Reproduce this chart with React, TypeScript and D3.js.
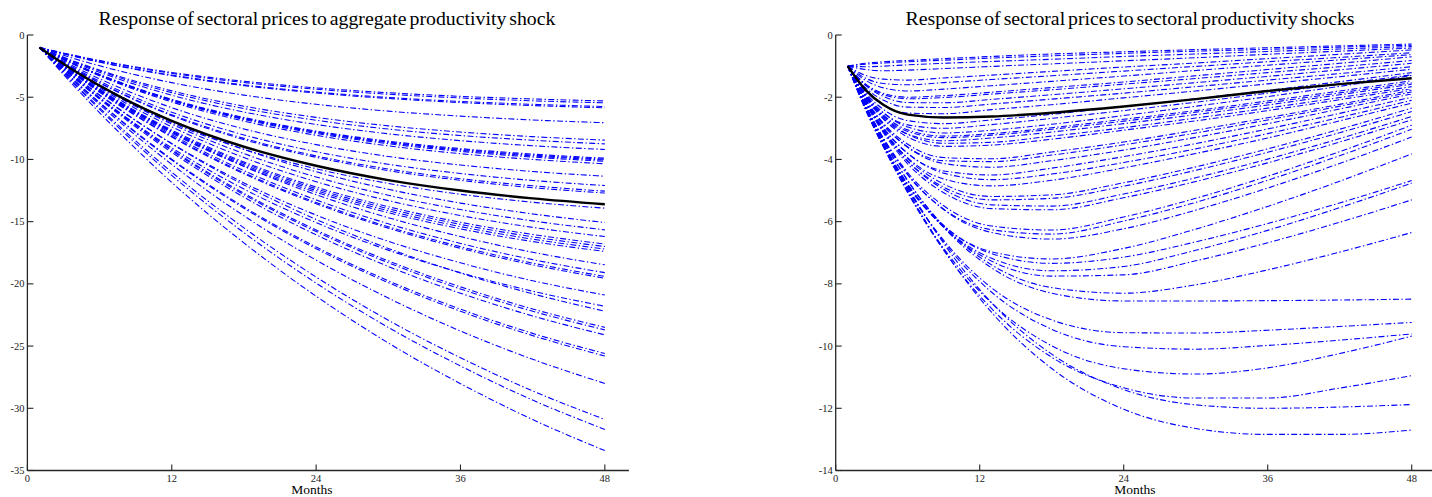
import React from "react";
import * as d3 from "d3";

// ---------- data ----------
const X_TICKS = [0, 12, 24, 36, 48];
const LEFT_Y_TICKS = [0, -5, -10, -15, -20, -25, -30, -35];
const RIGHT_Y_TICKS = [0, -2, -4, -6, -8, -10, -12, -14];

const LEFT_MONTHS = [1, 4, 8, 12, 18, 24, 30, 36, 42, 48];
const LEFT_AGGREGATE = [-1, -2.94, -5.11, -6.9, -8.98, -10.51, -11.66, -12.5, -13.13, -13.6];
const LEFT_SECTORS: number[][] = [
  [-1, -1.66, -2.4, -3.01, -3.72, -4.25, -4.64, -4.93, -5.14, -5.3],
  [-1, -1.69, -2.45, -3.08, -3.82, -4.36, -4.76, -5.06, -5.29, -5.45],
  [-1, -1.73, -2.55, -3.22, -4.01, -4.59, -5.02, -5.34, -5.57, -5.75],
  [-1, -1.75, -2.58, -3.27, -4.07, -4.66, -5.1, -5.43, -5.67, -5.85],
  [-1, -1.93, -2.97, -3.83, -4.83, -5.57, -6.12, -6.52, -6.83, -7.05],
  [-1, -2.15, -3.43, -4.49, -5.72, -6.62, -7.3, -7.8, -8.17, -8.45],
  [-1, -2.19, -3.53, -4.63, -5.91, -6.85, -7.56, -8.08, -8.46, -8.75],
  [-1, -2.26, -3.67, -4.84, -6.19, -7.19, -7.94, -8.49, -8.9, -9.2],
  [-1, -2.37, -3.9, -5.17, -6.63, -7.72, -8.53, -9.13, -9.57, -9.9],
  [-1, -2.38, -3.93, -5.2, -6.68, -7.78, -8.6, -9.2, -9.65, -9.98],
  [-1, -2.39, -3.95, -5.24, -6.73, -7.83, -8.66, -9.26, -9.72, -10.05],
  [-1, -2.41, -3.98, -5.28, -6.79, -7.91, -8.74, -9.35, -9.81, -10.15],
  [-1, -2.44, -4.05, -5.38, -6.92, -8.06, -8.91, -9.54, -10.0, -10.35],
  [-1, -2.59, -4.37, -5.84, -7.55, -8.81, -9.76, -10.45, -10.97, -11.35],
  [-1, -2.71, -4.62, -6.2, -8.03, -9.38, -10.39, -11.13, -11.69, -12.1],
  [-1, -2.78, -4.77, -6.41, -8.31, -9.72, -10.77, -11.55, -12.12, -12.55],
  [-1, -2.8, -4.81, -6.48, -8.41, -9.83, -10.9, -11.68, -12.27, -12.7],
  [-1, -2.99, -5.21, -7.05, -9.18, -10.75, -11.93, -12.8, -13.44, -13.92],
  [-1, -2.87, -5.05, -6.91, -9.19, -10.99, -12.4, -13.51, -14.38, -15.07],
  [-1, -2.95, -5.22, -7.16, -9.53, -11.41, -12.88, -14.03, -14.94, -15.66],
  [-1, -3.02, -5.38, -7.38, -9.85, -11.79, -13.31, -14.51, -15.46, -16.2],
  [-1, -3.1, -5.55, -7.64, -10.2, -12.22, -13.8, -15.05, -16.03, -16.8],
  [-1, -3.13, -5.61, -7.72, -10.31, -12.36, -13.96, -15.22, -16.22, -17.0],
  [-1, -3.15, -5.67, -7.8, -10.43, -12.5, -14.12, -15.4, -16.41, -17.2],
  [-1, -3.18, -5.72, -7.89, -10.54, -12.64, -14.28, -15.58, -16.6, -17.4],
  [-1, -3.1, -5.59, -7.78, -10.56, -12.83, -14.68, -16.2, -17.46, -18.47],
  [-1, -3.17, -5.76, -8.02, -10.9, -13.25, -15.17, -16.75, -18.05, -19.1],
  [-1, -3.21, -5.84, -8.14, -11.07, -13.46, -15.41, -17.01, -18.33, -19.4],
  [-1, -3.23, -5.88, -8.2, -11.15, -13.56, -15.52, -17.14, -18.47, -19.55],
  [-1, -3.39, -6.23, -8.72, -11.89, -14.47, -16.58, -18.31, -19.75, -20.9],
  [-1, -3.5, -6.47, -9.07, -12.38, -15.08, -17.29, -19.1, -20.59, -21.8],
  [-1, -3.35, -6.19, -8.74, -12.05, -14.82, -17.15, -19.13, -20.8, -22.2],
  [-1, -3.5, -6.51, -9.21, -12.72, -15.67, -18.15, -20.24, -22.02, -23.5],
  [-1, -3.52, -6.56, -9.29, -12.83, -15.8, -18.3, -20.41, -22.2, -23.7],
  [-1, -3.56, -6.66, -9.43, -13.04, -16.06, -18.6, -20.75, -22.58, -24.1],
  [-1, -3.73, -7.03, -9.98, -13.82, -17.04, -19.75, -22.03, -23.98, -25.6],
  [-1, -3.75, -7.08, -10.05, -13.92, -17.17, -19.9, -22.2, -24.16, -25.8],
  [-1, -3.84, -7.26, -10.4, -14.53, -18.09, -21.14, -23.79, -26.06, -28.0],
  [-1, -3.98, -7.64, -11.02, -15.5, -19.45, -22.92, -25.94, -28.6, -30.9],
  [-1, -4.05, -7.82, -11.28, -15.89, -19.94, -23.5, -26.6, -29.34, -31.7],
  [-1, -4.22, -8.19, -11.85, -16.71, -20.99, -24.75, -28.02, -30.91, -33.4],
];

const RIGHT_MONTHS = [1, 2.5, 4, 6, 9, 13, 18, 24, 30, 36, 42, 48];
const RIGHT_AGGREGATE = [-1, -1.77, -2.25, -2.56, -2.65, -2.62, -2.5, -2.3, -2.06, -1.8, -1.58, -1.39];
const RIGHT_SECTORS: number[][] = [
  [-1, -0.91, -0.86, -0.82, -0.76, -0.69, -0.61, -0.54, -0.47, -0.41, -0.35, -0.29],
  [-1, -0.94, -0.9, -0.86, -0.81, -0.74, -0.67, -0.59, -0.52, -0.46, -0.39, -0.33],
  [-1, -1.02, -1.0, -0.96, -0.91, -0.85, -0.78, -0.69, -0.61, -0.53, -0.45, -0.37],
  [-1, -1.11, -1.15, -1.13, -1.08, -1.01, -0.93, -0.83, -0.73, -0.62, -0.52, -0.42],
  [-1, -1.3, -1.42, -1.45, -1.38, -1.29, -1.17, -1.03, -0.9, -0.76, -0.62, -0.48],
  [-1, -1.39, -1.56, -1.6, -1.53, -1.43, -1.31, -1.16, -1.01, -0.86, -0.72, -0.57],
  [-1, -1.46, -1.7, -1.8, -1.74, -1.63, -1.49, -1.32, -1.14, -0.97, -0.8, -0.63],
  [-1, -1.58, -1.88, -2.0, -1.95, -1.84, -1.69, -1.51, -1.31, -1.11, -0.91, -0.7],
  [-1, -1.61, -1.92, -2.05, -2.01, -1.9, -1.76, -1.58, -1.4, -1.21, -1.02, -0.82],
  [-1, -1.62, -1.98, -2.17, -2.18, -2.07, -1.92, -1.73, -1.53, -1.33, -1.12, -0.91],
  [-1, -1.7, -2.1, -2.32, -2.33, -2.22, -2.06, -1.87, -1.66, -1.45, -1.24, -1.02],
  [-1, -1.8, -2.26, -2.51, -2.53, -2.4, -2.24, -2.02, -1.8, -1.57, -1.34, -1.1],
  [-1, -1.86, -2.4, -2.75, -2.85, -2.73, -2.55, -2.3, -2.05, -1.78, -1.5, -1.21],
  [-1, -1.93, -2.51, -2.89, -3.0, -2.88, -2.68, -2.43, -2.16, -1.87, -1.58, -1.28],
  [-1, -1.91, -2.51, -2.96, -3.15, -3.06, -2.87, -2.59, -2.29, -1.98, -1.65, -1.3],
  [-1, -1.95, -2.58, -3.05, -3.25, -3.17, -2.98, -2.71, -2.43, -2.12, -1.8, -1.47],
  [-1, -1.97, -2.62, -3.1, -3.3, -3.22, -3.03, -2.77, -2.48, -2.18, -1.86, -1.53],
  [-1, -2.01, -2.69, -3.19, -3.4, -3.31, -3.12, -2.85, -2.56, -2.25, -1.92, -1.58],
  [-1, -1.97, -2.64, -3.19, -3.48, -3.45, -3.25, -2.98, -2.67, -2.35, -2.01, -1.66],
  [-1, -2.0, -2.71, -3.28, -3.58, -3.54, -3.35, -3.06, -2.76, -2.43, -2.08, -1.72],
  [-1, -2.07, -2.85, -3.51, -3.94, -3.98, -3.76, -3.44, -3.06, -2.66, -2.23, -1.77],
  [-1, -2.1, -2.91, -3.6, -4.04, -4.07, -3.86, -3.53, -3.15, -2.73, -2.29, -1.83],
  [-1, -2.07, -2.88, -3.61, -4.13, -4.25, -4.04, -3.7, -3.29, -2.85, -2.38, -1.89],
  [-1, -2.16, -3.02, -3.81, -4.37, -4.5, -4.28, -3.91, -3.49, -3.02, -2.52, -2.0],
  [-1, -2.12, -2.99, -3.8, -4.44, -4.65, -4.47, -4.1, -3.66, -3.17, -2.65, -2.1],
  [-1, -2.19, -3.1, -3.95, -4.63, -4.85, -4.67, -4.27, -3.81, -3.31, -2.76, -2.19],
  [-1, -2.14, -3.06, -3.97, -4.79, -5.19, -5.14, -4.75, -4.24, -3.66, -3.03, -2.35],
  [-1, -2.17, -3.11, -4.05, -4.89, -5.3, -5.25, -4.86, -4.35, -3.77, -3.14, -2.46],
  [-1, -2.16, -3.1, -4.06, -4.96, -5.46, -5.5, -5.11, -4.59, -3.99, -3.33, -2.62],
  [-1, -2.19, -3.16, -4.14, -5.07, -5.58, -5.62, -5.23, -4.71, -4.11, -3.44, -2.73],
  [-1, -2.28, -3.33, -4.42, -5.49, -6.14, -6.27, -5.85, -5.25, -4.54, -3.75, -2.9],
  [-1, -2.31, -3.38, -4.5, -5.6, -6.26, -6.4, -5.98, -5.38, -4.67, -3.88, -3.03],
  [-1, -2.28, -3.34, -4.47, -5.61, -6.35, -6.56, -6.23, -5.63, -4.92, -4.13, -3.28],
  [-1, -2.42, -3.61, -4.86, -6.14, -6.97, -7.2, -6.86, -6.24, -5.51, -4.7, -3.82],
  [-1, -2.39, -3.56, -4.81, -6.12, -7.03, -7.34, -7.14, -6.65, -6.06, -5.4, -4.68],
  [-1, -2.38, -3.55, -4.82, -6.17, -7.18, -7.58, -7.44, -6.92, -6.28, -5.55, -4.76],
  [-1, -2.36, -3.52, -4.79, -6.19, -7.27, -7.75, -7.71, -7.26, -6.68, -6.02, -5.3],
  [-1, -2.29, -3.41, -4.68, -6.14, -7.39, -8.12, -8.3, -8.03, -7.55, -6.98, -6.35],
  [-1, -2.28, -3.41, -4.68, -6.18, -7.49, -8.3, -8.55, -8.55, -8.54, -8.52, -8.49],
  [-1, -2.36, -3.56, -4.95, -6.6, -8.13, -9.16, -9.57, -9.58, -9.49, -9.37, -9.24],
  [-1, -2.34, -3.54, -4.94, -6.65, -8.27, -9.46, -10.02, -10.1, -9.98, -9.81, -9.61],
  [-1, -2.37, -3.61, -5.06, -6.86, -8.62, -9.99, -10.73, -10.9, -10.7, -10.24, -9.68],
  [-1, -2.35, -3.59, -5.06, -6.92, -8.8, -10.36, -11.34, -11.67, -11.67, -11.35, -10.95],
  [-1, -2.28, -3.47, -4.88, -6.7, -8.61, -10.26, -11.4, -11.89, -12.0, -11.96, -11.88],
  [-1, -2.32, -3.53, -5.0, -6.9, -8.92, -10.72, -12.03, -12.65, -12.84, -12.84, -12.7],
];

const LEFT_TITLE = "Response of sectoral prices to aggregate productivity shock";
const RIGHT_TITLE = "Response of sectoral prices to sectoral productivity shocks";
const X_LABEL = "Months";

// ---------- layout ----------
const W = 1432;
const H = 497;
const TOP = 35;
const BOTTOM = 470.5;
const FONT = "'Liberation Serif', 'Times New Roman', serif";
const AXIS_COLOR = "#262626";

type PanelProps = {
  title: string;
  xRange: [number, number];
  yMin: number;
  yTicks: number[];
  months: number[];
  sectors: number[][];
  aggregate: number[];
  titleX: number;
  labelX: number;
};

function Panel({ title, xRange, yMin, yTicks, months, sectors, aggregate, titleX, labelX }: PanelProps) {
  const x = d3.scaleLinear().domain([0, 50]).range(xRange);
  const y = d3.scaleLinear().domain([yMin, 0]).range([BOTTOM, TOP]);
  const line = d3
    .line<number>()
    .x((_, i) => x(months[i]))
    .y((d) => y(d))
    .curve(d3.curveMonotoneX);
  const x0 = x(0);
  return (
    <g>
      <text x={titleX} y={25} textAnchor="middle" fontFamily={FONT} fontSize={19.8} fill="#000" wordSpacing={-2}>
        {title}
      </text>
      {sectors.map((s, i) => (
        <path
          key={i}
          d={line(s) || ""}
          fill="none"
          stroke="#0000ff"
          strokeWidth={1.1}
          strokeDasharray="6,2.4,1.4,2.4"
        />
      ))}
      <path d={line(aggregate) || ""} fill="none" stroke="#000" strokeWidth={2.4} />
      {/* axes */}
      <line x1={x0} x2={x0} y1={TOP} y2={BOTTOM} stroke={AXIS_COLOR} strokeWidth={1.3} />
      <line x1={x0} x2={xRange[1]} y1={BOTTOM} y2={BOTTOM} stroke={AXIS_COLOR} strokeWidth={1.3} />
      {yTicks.map((t) => (
        <g key={"y" + t}>
          <line x1={x0} x2={x0 + 6} y1={y(t)} y2={y(t)} stroke={AXIS_COLOR} strokeWidth={1.1} />
          <text
            x={x0 - 3}
            y={y(t) + 3.5}
            textAnchor="end"
            fontFamily={FONT}
            fontSize={10.5}
            fill="#222"
          >
            {t}
          </text>
        </g>
      ))}
      {X_TICKS.map((t) => (
        <g key={"x" + t}>
          <line x1={x(t)} x2={x(t)} y1={BOTTOM} y2={BOTTOM - 6} stroke={AXIS_COLOR} strokeWidth={1.1} />
          <text x={x(t)} y={BOTTOM + 11} textAnchor="middle" fontFamily={FONT} fontSize={10.5} fill="#222">
            {t}
          </text>
        </g>
      ))}
      <text x={labelX} y={494} textAnchor="middle" fontFamily={FONT} fontSize={13.5} fill="#000">
        {X_LABEL}
      </text>
    </g>
  );
}

export default function App() {
  return (
    <svg
      width={W}
      height={H}
      viewBox={`0 0 ${W} ${H}`}
      style={{ position: "absolute", left: 0, top: 0, display: "block", background: "#fff" }}
    >
      <rect x={0} y={0} width={W} height={H} fill="#fff" />
      <Panel
        title={LEFT_TITLE}
        xRange={[27.4, 628.9]}
        yMin={-35}
        yTicks={LEFT_Y_TICKS}
        months={LEFT_MONTHS}
        sectors={LEFT_SECTORS}
        aggregate={LEFT_AGGREGATE}
        titleX={327}
        labelX={312}
      />
      <Panel
        title={RIGHT_TITLE}
        xRange={[835.7, 1435.7]}
        yMin={-14}
        yTicks={RIGHT_Y_TICKS}
        months={RIGHT_MONTHS}
        sectors={RIGHT_SECTORS}
        aggregate={RIGHT_AGGREGATE}
        titleX={1130}
        labelX={1135}
      />
    </svg>
  );
}
